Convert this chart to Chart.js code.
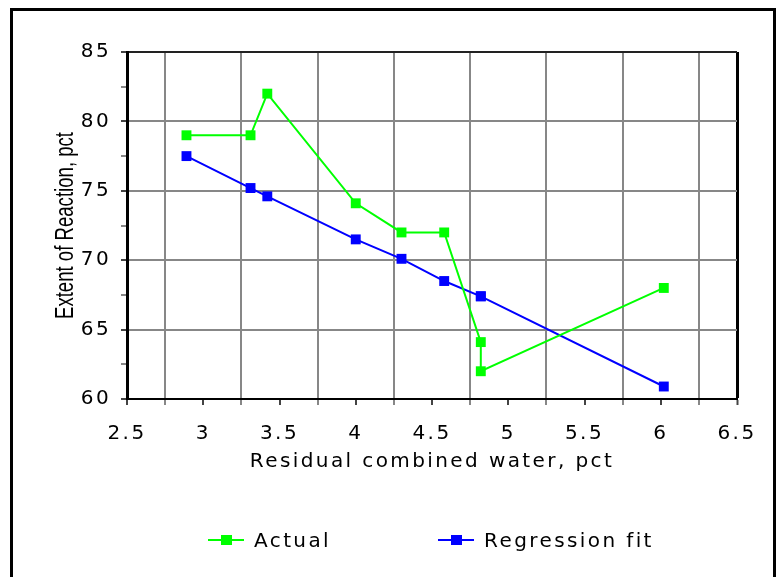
<!DOCTYPE html>
<html>
<head>
<meta charset="utf-8">
<script src="https://cdn.jsdelivr.net/npm/chart.js@4.4.1/dist/chart.umd.min.js"></script>
<style>
  html, body { margin: 0; padding: 0; background: #fff; overflow: hidden; }
  #wrap { position: relative; width: 778px; height: 577px; }
  #frame { position: absolute; left: 10px; top: 8px; width: 760px; height: 620px; border: 3px solid #000; }
  #chart { position: absolute; left: 0; top: 0; }
  #legend { position: absolute; left: 208px; top: 528px; font: 20px "DejaVu Sans"; letter-spacing: 2.4px;
            color: #000; white-space: nowrap; display: flex; align-items: center; }
  .item { display: inline-flex; align-items: center; }
  .item + .item { margin-left: 107px; }
  .mark { position: relative; width: 36px; height: 12px; margin-right: 10px; }
  .mark .ln { position: absolute; left: 0; right: 0; top: 5px; height: 2px; }
  .mark .sq { position: absolute; left: 13px; top: 1px; width: 11px; height: 10px; }
</style>
</head>
<body>
<div id="wrap">
  <div id="frame"></div>
  <canvas id="chart" width="778" height="577"></canvas>
  <div id="legend"></div>
</div>
<script>
  // values
  const xValues = [2.89, 3.31, 3.42, 4.0, 4.3, 4.58, 4.82, 4.82, 6.02];
  const actualValues = [79, 79, 82, 74.1, 72, 72, 64.1, 62, 68];
  const fitValues = [77.5, 75.2, 74.6, 71.5, 70.1, 68.5, 67.4, 67.4, 60.9];
  const seriesNames = ["Actual", "Regression fit"];
  const seriesColors = ["#00ff00", "#0000ff"];
  const xTitle = "Residual combined water, pct";
  const yTitle = "Extent of Reaction, pct";
  const xRange = [2.5, 6.5];
  const yRange = [60, 85];

  const GRID = "#878787";
  const FONT = { family: "DejaVu Sans", size: 20 };

  function toPoints(ys) {
    return ys.map(function (y, i) { return { x: xValues[i], y: y }; });
  }

  // the original draws its text a bit spread out
  const spacingPlugin = {
    id: "spacing",
    beforeUpdate: function (chart) { chart.ctx.letterSpacing = "2.4px"; },
    beforeDraw: function (chart) { chart.ctx.letterSpacing = "2.4px"; },
  };

  // tall, narrow y title like the old bitmap font
  const yTitlePlugin = {
    id: "yTitle",
    afterDraw: function (chart) {
      const ctx = chart.ctx;
      const area = chart.chartArea;
      ctx.save();
      ctx.letterSpacing = "0px";
      ctx.font = "26px 'Liberation Sans'";
      const w = ctx.measureText(yTitle).width;
      ctx.translate(73, (area.top + area.bottom) / 2);
      ctx.rotate(-Math.PI / 2);
      ctx.scale(187 / w, 1);
      ctx.textAlign = "center";
      ctx.textBaseline = "alphabetic";
      ctx.fillStyle = "#000";
      ctx.fillText(yTitle, 0, 0);
      ctx.restore();
    },
  };

  const datasets = [actualValues, fitValues].map(function (vals, i) {
    return {
      label: seriesNames[i],
      data: toPoints(vals),
      showLine: true,
      borderColor: seriesColors[i],
      backgroundColor: seriesColors[i],
      borderWidth: 2,
      pointStyle: "rect",
      pointRadius: 7,
      pointBorderWidth: 0,
      tension: 0,
    };
  });

  const chart = new Chart(document.getElementById("chart"), {
    type: "scatter",
    data: { datasets: datasets },
    plugins: [spacingPlugin, yTitlePlugin],
    options: {
      responsive: false,
      animation: false,
      events: [],
      layout: { padding: { left: 0, top: 52, right: 41, bottom: 100 } },
      plugins: { legend: { display: false }, tooltip: { enabled: false } },
      scales: {
        x: {
          type: "linear",
          min: xRange[0],
          max: xRange[1],
          afterFit: function (scale) { scale.height = 78; },
          border: { color: "#000", width: 2 },
          grid: {
            tickLength: 6,
            color: function (c) {
              const v = c.tick.value;
              if (v === xRange[1]) return "#000";
              return v % 0.5 !== 0 ? GRID : "rgba(0,0,0,0)";
            },
            lineWidth: function (c) { return c.tick.value === xRange[1] ? 3 : 2; },
            tickColor: function (c) { return c.tick.value % 0.5 === 0 ? "#444" : GRID; },
            tickWidth: 2,
          },
          ticks: {
            stepSize: 0.25,
            autoSkip: false,
            maxRotation: 0,
            padding: 17,
            color: "#000",
            font: FONT,
            callback: function (v) { return v % 0.5 === 0 ? String(v) : ""; },
          },
          title: { display: true, text: xTitle, color: "#000", font: FONT, padding: { top: 0, bottom: 3 } },
        },
        y: {
          type: "linear",
          min: yRange[0],
          max: yRange[1],
          afterFit: function (scale) { scale.width = 127; },
          border: { color: "#000", width: 3 },
          grid: {
            tickLength: 6,
            color: function (c) {
              const v = c.tick.value;
              if (v === yRange[1]) return "#222";
              return v % 5 === 0 ? GRID : "rgba(0,0,0,0)";
            },
            lineWidth: 2,
            tickColor: function (c) { return c.tick.value % 5 === 0 ? "#444" : GRID; },
            tickWidth: 2,
          },
          ticks: {
            stepSize: 2.5,
            autoSkip: false,
            padding: 10,
            color: "#000",
            font: FONT,
            callback: function (v) { return v % 5 === 0 ? String(v) : ""; },
          },
        },
      },
    },
  });

  // legend in html: short line with a square on it, then the name
  document.getElementById("legend").innerHTML = chart.data.datasets
    .map(function (ds) {
      return '<span class="item"><span class="mark">' +
        '<span class="ln" style="background:' + ds.borderColor + '"></span>' +
        '<span class="sq" style="background:' + ds.borderColor + '"></span>' +
        "</span>" + ds.label + "</span>";
    })
    .join("");
</script>
</body>
</html>
